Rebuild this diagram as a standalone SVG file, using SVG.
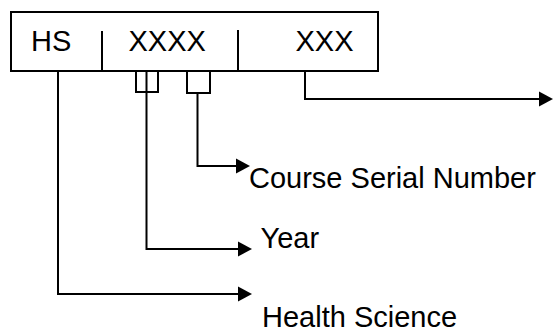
<svg xmlns="http://www.w3.org/2000/svg" width="553" height="335" viewBox="0 0 553 335">
<style>
.ln{fill:none;stroke:#000;stroke-width:2}
.t{font-family:"Liberation Sans",Arial,sans-serif;font-size:29px;fill:#000}
</style>
<defs>
<marker id="ah" markerUnits="userSpaceOnUse" markerWidth="16" markerHeight="18" refX="1" refY="8" orient="auto">
<path d="M0,0.5 L14,8 L0,15.5 Z" fill="#000"/>
</marker>
</defs>
<rect width="553" height="335" fill="#fff"/>
<g id="code-box">
<rect class="ln" x="11" y="12" width="367" height="59"/>
<line class="ln" x1="102" y1="31" x2="102" y2="72"/>
<line class="ln" x1="238" y1="30" x2="238" y2="71"/>
<text class="t" x="31" y="50.5">HS</text>
<text class="t" x="128.5" y="50.5">XXXX</text>
<text class="t" x="295.5" y="50.5">XXX</text>
</g>
<g id="label-course"><text class="t" x="249" y="188">Course Serial Number</text></g>
<g id="label-year"><text class="t" x="260.5" y="248">Year</text></g>
<g id="label-health"><text class="t" x="262" y="327">Health Science</text></g>
<g id="connectors">
<path class="ln" d="M136,71 V92 H158 V71"/>
<path class="ln" d="M187,71 V93 H210 V71"/>
<path class="ln" d="M305,71 V99 H540" marker-end="url(#ah)"/>
<path class="ln" d="M197.5,93 V166 H237" marker-end="url(#ah)"/>
<path class="ln" d="M146.5,71 V249 H239" marker-end="url(#ah)"/>
<path class="ln" d="M58,71 V294 H239" marker-end="url(#ah)"/>
</g>
</svg>
